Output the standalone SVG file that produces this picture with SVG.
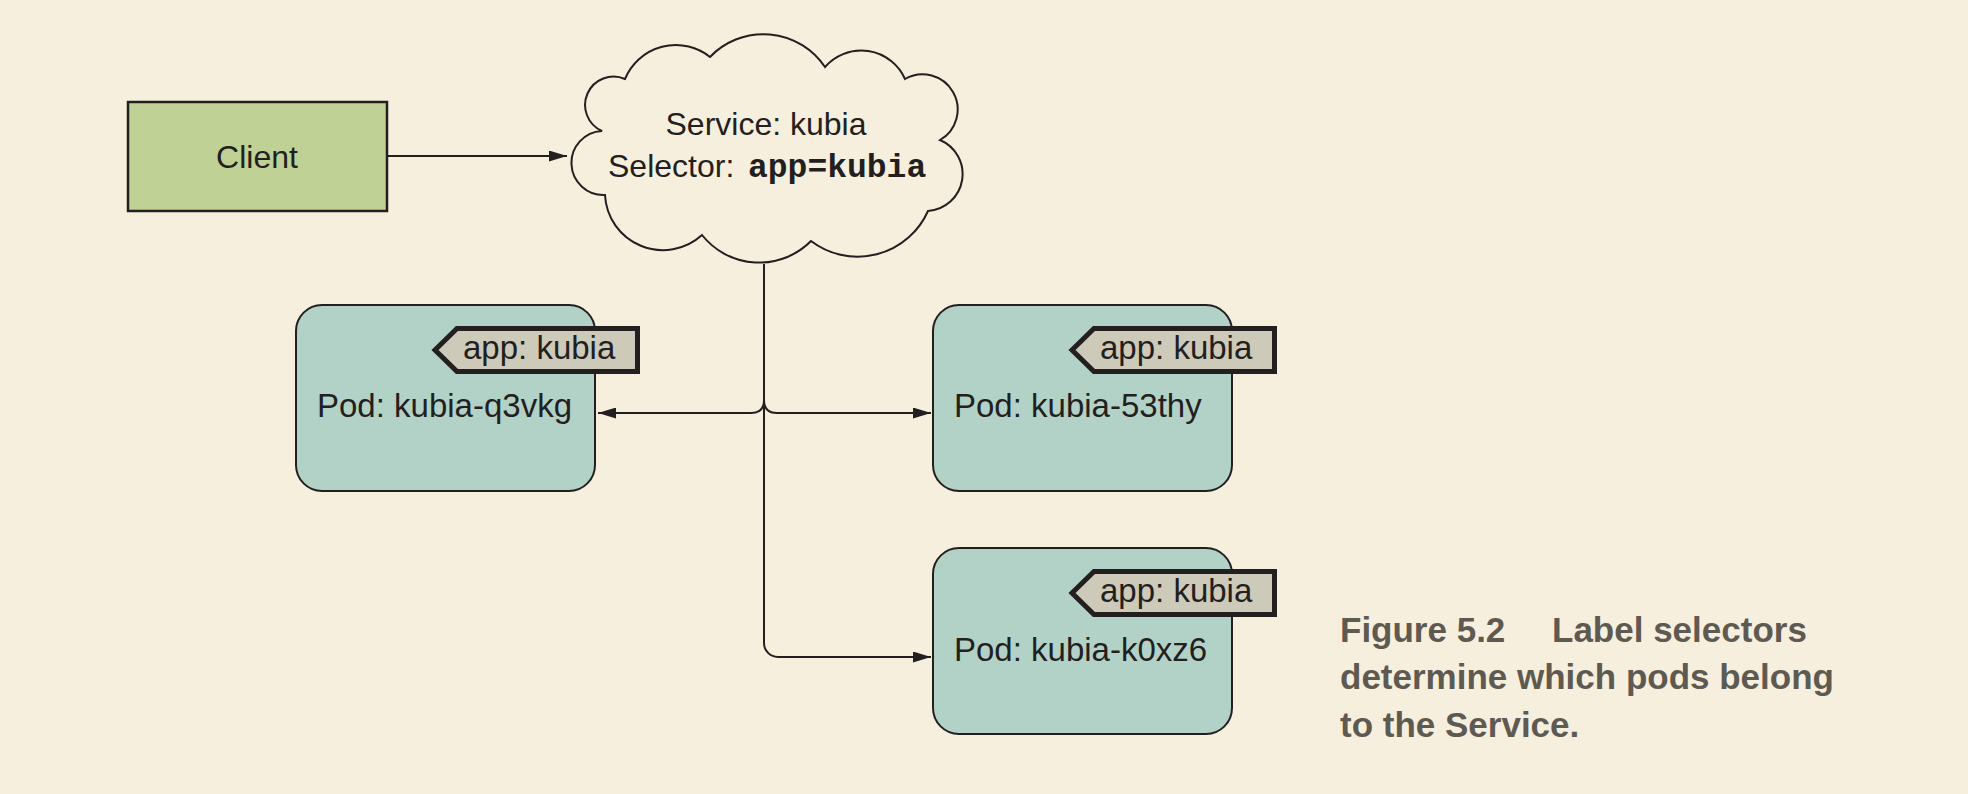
<svg xmlns="http://www.w3.org/2000/svg" width="1968" height="794" viewBox="0 0 1968 794">
<style>
.ln{fill:none;stroke:#231f20;stroke-width:2}
.pod{fill:#b2d2c7;stroke:#231f20;stroke-width:2}
.tag{fill:#cdcab9;stroke:#231f20;stroke-width:5;stroke-linejoin:miter}
.t{font-family:"Liberation Sans",Arial,sans-serif;fill:#231f20}
.cap{font-family:"Liberation Sans",Arial,sans-serif;font-weight:bold;font-size:35px;fill:#5e5a52}
</style>
<defs>
<marker id="ah" markerUnits="userSpaceOnUse" markerWidth="18" markerHeight="11" refX="18" refY="5.5" orient="auto">
<path d="M0,0 L18,5.5 L0,11 Z" fill="#231f20"/>
</marker>
</defs>
<rect x="0" y="0" width="1968" height="794" fill="#f7efde"/>
<g id="connectors">
<path class="ln" d="M387,156 H567" marker-end="url(#ah)" stroke-width="2.5"/>
<path class="ln" d="M764,264 V643 A14,14 0 0 0 778,657 H931" marker-end="url(#ah)"/>
<path class="ln" d="M764,400 Q764,413 777,413 H931" marker-end="url(#ah)"/>
<path class="ln" d="M764,400 Q764,413 751,413 H598" marker-end="url(#ah)"/>
</g>
<g id="client">
<rect x="128" y="102" width="259" height="109" fill="#bfd195" stroke="#231f20" stroke-width="2.5"/>
<text class="t" x="257" y="168" font-size="32" text-anchor="middle">Client</text>
</g>
<g id="service">
<path d="M625,79 A55,55 0 0 1 710,57 A74,74 0 0 1 825,67 A48,48 0 0 1 905,79 A34,34 0 0 1 940,140 A37,37 0 0 1 928,211 A77,77 0 0 1 811,241 A73,73 0 0 1 702,235 A58,58 0 0 1 605,195 A32,32 0 1 1 602,131 A28,28 0 0 1 625,79 Z" fill="#f7efde" stroke="#231f20" stroke-width="2"/>
<text class="t" x="766" y="135" font-size="32" text-anchor="middle">Service: kubia</text>
<text class="t" x="608" y="177" font-size="32">Selector: <tspan x="748" font-size="33" font-family="'Liberation Mono','Courier New',monospace" font-weight="bold">app=kubia</tspan></text>
</g>
<g id="pod-q3vkg">
<rect class="pod" x="296" y="305" width="299" height="186" rx="26"/>
<polygon class="tag" points="435,350 457,328.5 637.5,328.5 637.5,371.5 457,371.5"/>
<text class="t" x="463" y="359" font-size="33">app: kubia</text>
<text class="t" x="317" y="417" font-size="33">Pod: kubia-q3vkg</text>
</g>
<g id="pod-53thy">
<rect class="pod" x="933" y="305" width="299" height="186" rx="26"/>
<polygon class="tag" points="1072,350 1094,328.5 1274.5,328.5 1274.5,371.5 1094,371.5"/>
<text class="t" x="1100" y="359" font-size="33">app: kubia</text>
<text class="t" x="954" y="417" font-size="33">Pod: kubia-53thy</text>
</g>
<g id="pod-k0xz6">
<rect class="pod" x="933" y="548" width="299" height="186" rx="26"/>
<polygon class="tag" points="1072,593 1094,571.5 1274.5,571.5 1274.5,614.5 1094,614.5"/>
<text class="t" x="1100" y="602" font-size="33">app: kubia</text>
<text class="t" x="954" y="661" font-size="33">Pod: kubia-k0xz6</text>
</g>
<g id="caption">
<text class="cap" y="642"><tspan x="1340">Figure 5.2</tspan><tspan x="1552">Label selectors</tspan></text>
<text class="cap" x="1340" y="689">determine which pods belong</text>
<text class="cap" x="1340" y="737">to the Service.</text>
</g>
</svg>
